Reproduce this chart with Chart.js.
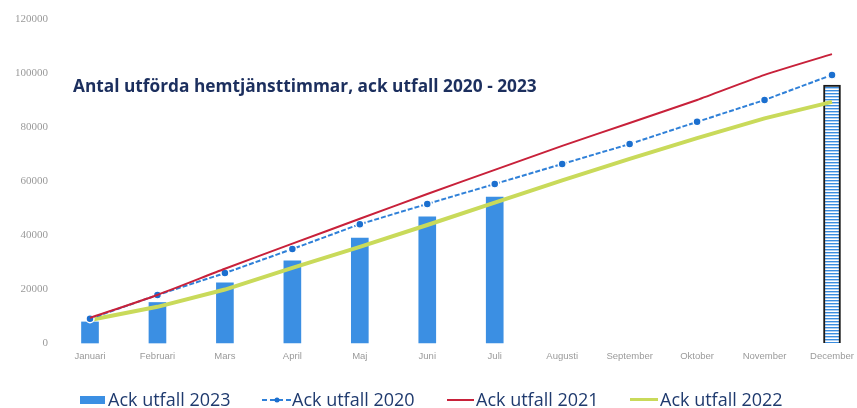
<!DOCTYPE html>
<html>
<head>
<meta charset="utf-8">
<script src="https://cdn.jsdelivr.net/npm/chart.js@4"></script>
<style>
  body { margin: 0; background: #fff; }
  #wrap { position: relative; width: 857px; height: 408px; }
  #chart { display: block; }
  .lg { position: absolute; font-family: "Open Sans", sans-serif; font-size: 18px; color: #1f3a6e; line-height: 1; }
  .ic { position: absolute; }
</style>
</head>
<body>
<div id="wrap">
  <canvas id="chart" width="857" height="408"></canvas>
  <span class="ic" style="left:80px; top:396px; width:25px; height:8px; background:#3b8fe3;"></span>
  <span class="lg" style="left:108px; top:390px;">Ack utfall 2023</span>
  <svg class="ic" style="left:262px; top:394px;" width="30" height="12">
    <line x1="0" y1="6" x2="30" y2="6" stroke="#2f80d8" stroke-width="2" stroke-dasharray="5,3"/>
    <circle cx="15" cy="6" r="2.5" fill="#1b6fcf"/>
  </svg>
  <span class="lg" style="left:292px; top:390px;">Ack utfall 2020</span>
  <span class="ic" style="left:447px; top:399px; width:27px; height:2px; background:#c8213a;"></span>
  <span class="lg" style="left:476px; top:390px;">Ack utfall 2021</span>
  <span class="ic" style="left:630px; top:398px; width:28px; height:3px; background:#c9da5a;"></span>
  <span class="lg" style="left:660px; top:390px;">Ack utfall 2022</span>
</div>
<script>
const months = ["Januari", "Februari", "Mars", "April", "Maj", "Juni", "Juli",
  "Augusti", "September", "Oktober", "November", "December"];
const utfall2023 = [7800, 15000, 22300, 30400, 38900, 46700, 54000, null, null, null, null, 95500];
const utfall2020 = [9000, 17800, 25900, 34800, 44000, 51500, 58900, 66300, 73700, 81900, 90000, 99300];
const utfall2021 = [9300, 17800, 27500, 36800, 46000, 55200, 64100, 73000, 81500, 90000, 99300, 107000];
const utfall2022 = [8500, 13400, 19800, 27800, 35600, 43700, 52000, 60200, 68200, 75900, 83200, 89300];
const yTicks = [0, 20000, 40000, 60000, 80000, 100000, 120000];
const title = "Antal utförda hemtjänsttimmar, ack utfall 2020 - 2023";

// striped fill for the december bar
const pc = document.createElement("canvas");
pc.width = 6; pc.height = 3;
const pctx = pc.getContext("2d");
pctx.fillStyle = "#ffffff";
pctx.fillRect(0, 0, 6, 3);
pctx.fillStyle = "#3a8de0";
pctx.fillRect(0, 0, 6, 1.4);
const stripes = pctx.createPattern(pc, "repeat");

const barColors = utfall2023.map((v, i) => i === 11 ? stripes : "#3b8fe3");
const barBorders = utfall2023.map((v, i) => i === 11 ? "#1a1a1a" : "rgba(0,0,0,0)");
const barBorderW = utfall2023.map((v, i) => i === 11 ? 2 : 0);

const titlePlugin = {
  id: "innerTitle",
  afterDraw(chart) {
    const ctx = chart.ctx;
    ctx.save();
    ctx.font = "bold 16px 'Open Sans', sans-serif";
    const w = ctx.measureText(title).width;
    const size = 16 * 464 / w;
    ctx.font = "bold " + size.toFixed(2) + "px 'Open Sans', sans-serif";
    ctx.fillStyle = "#1c2f5e";
    ctx.textBaseline = "alphabetic";
    ctx.fillText(title, 73, 92);
    ctx.restore();
  }
};

new Chart(document.getElementById("chart"), {
  type: "bar",
  data: {
    labels: months,
    datasets: [
      {
        type: "bar",
        label: "Ack utfall 2023",
        data: utfall2023,
        backgroundColor: barColors,
        borderColor: barBorders,
        borderWidth: barBorderW,
        barThickness: 17,
        clip: false,
        order: 5
      },
      {
        type: "line",
        label: "Ack utfall 2022",
        data: utfall2022,
        borderColor: "#c9da5a",
        borderWidth: 4,
        pointRadius: 0,
        tension: 0,
        order: 3
      },
      {
        type: "line",
        label: "Ack utfall 2020",
        data: utfall2020,
        borderColor: "#2f80d8",
        borderWidth: 2,
        borderDash: [5, 2],
        pointRadius: 4,
        pointBackgroundColor: "#1b6fcf",
        pointBorderColor: "#ffffff",
        pointBorderWidth: 1.5,
        tension: 0,
        clip: false,
        order: 2
      },
      {
        type: "line",
        label: "Ack utfall 2021",
        data: utfall2021,
        borderColor: "#c8213a",
        borderWidth: 2,
        pointRadius: 0,
        tension: 0.2,
        order: 1
      }
    ]
  },
  options: {
    responsive: false,
    animation: false,
    layout: { autoPadding: false, padding: { top: 19, right: 25, bottom: 45, left: 0 } },
    plugins: {
      legend: { display: false },
      tooltip: { enabled: false }
    },
    scales: {
      x: {
        offset: false,
        grid: { display: false, drawTicks: false },
        border: { display: false },
        ticks: {
          color: "#9a9a9a",
          font: { family: "'Liberation Sans', sans-serif", size: 9.5 },
          padding: 8,
          maxRotation: 0,
          autoSkip: false
        },
        afterFit: s => { s.height = 20; s.paddingLeft = 0; s.paddingRight = 0; }
      },
      y: {
        min: 0,
        max: 120000,
        afterBuildTicks: s => { s.ticks = yTicks.map(v => ({ value: v })); },
        grid: { display: false, drawTicks: false },
        border: { display: false },
        ticks: {
          color: "#9a9a9a",
          font: { family: "'Liberation Serif', serif", size: 11 },
          padding: 42,
          callback: v => String(v)
        },
        afterFit: s => { s.width = 90; s.paddingTop = 0; s.paddingBottom = 0; }
      }
    }
  },
  plugins: [titlePlugin]
});
</script>
</body>
</html>
